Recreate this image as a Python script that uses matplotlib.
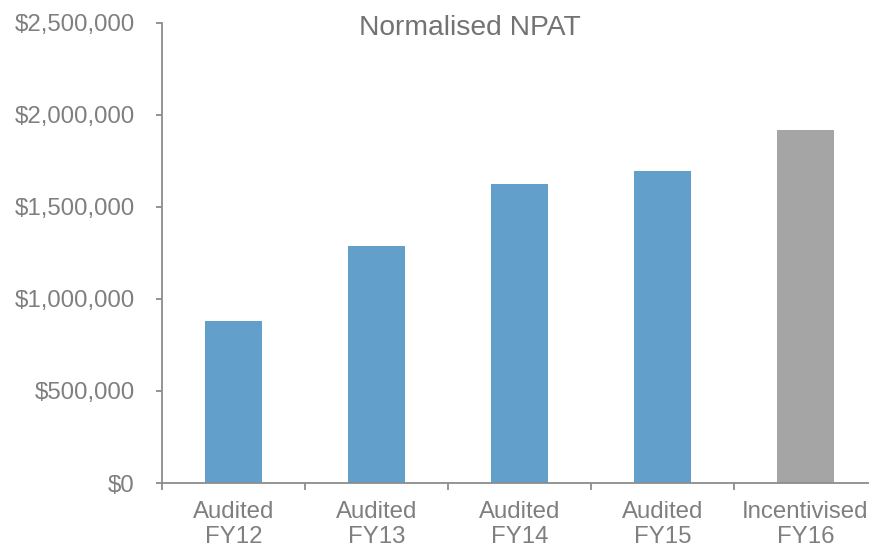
import matplotlib
matplotlib.use("Agg")
import matplotlib.pyplot as plt
from matplotlib.ticker import FuncFormatter, FixedLocator

categories = ["Audited\nFY12", "Audited\nFY13", "Audited\nFY14", "Audited\nFY15", "Incentivised\nFY16"]
values = [880000, 1288000, 1625000, 1696000, 1918000]
bar_colors = ["#629FCA", "#629FCA", "#629FCA", "#629FCA", "#A5A5A5"]
yticks = [0, 500000, 1000000, 1500000, 2000000, 2500000]

plt.rcParams['font.family'] = ['Liberation Sans', 'DejaVu Sans']
text_color = "#7F7F7F"
axis_color = "#8C8C8C"

W, H = 870, 550
fig = plt.figure(figsize=(8.7, 5.5), dpi=100)
left, right, top, bottom = 162, 877, 23, 483
ax = fig.add_axes([left / W, 1 - bottom / H, (right - left) / W, (bottom - top) / H])

x = list(range(len(categories)))
ax.bar(x, values, width=0.4, color=bar_colors)
ax.set_xlim(-0.5, len(categories) - 0.5)
ax.set_ylim(0, 2500000)

for s in ["top", "right"]:
    ax.spines[s].set_visible(False)
for s in ["left", "bottom"]:
    ax.spines[s].set_color(axis_color)
    ax.spines[s].set_linewidth(1.3)

ax.yaxis.set_major_locator(FixedLocator(yticks))
ax.yaxis.set_major_formatter(FuncFormatter(lambda v, p: "${:,.0f}".format(v)))
ax.tick_params(axis="y", direction="out", length=4.5, width=1.3, color=axis_color,
               labelsize=17.3, labelcolor=text_color, pad=15)

ax.set_xticks(x)
ax.set_xticklabels(categories)
ax.tick_params(axis="x", which="major", length=0, labelsize=17.3, labelcolor=text_color, pad=13)
ax.set_xticks([i + 0.5 for i in range(-1, len(categories) - 1)], minor=True)
ax.tick_params(axis="x", which="minor", direction="out", length=5, width=1.3, color=axis_color)
for lbl in ax.get_xticklabels():
    lbl.set_linespacing(1.2)

fig.text(470 / W, 1 - 28 / H, "Normalised NPAT", ha="center", va="center",
         fontsize=20.3, color="#737373")

fig.savefig("out.png", dpi=100)
